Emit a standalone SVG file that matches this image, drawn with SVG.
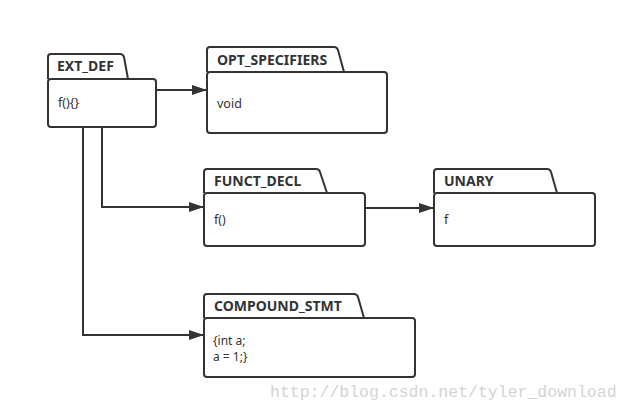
<svg xmlns="http://www.w3.org/2000/svg" width="627" height="410" viewBox="0 0 627 410">
<defs>
<style>
.box{fill:#fff;stroke:#333;stroke-width:2}
.tab{fill:#fff;stroke:#333;stroke-width:2;stroke-linejoin:round}
.title{font-family:"Noto Sans","Open Sans",sans-serif;font-weight:bold;font-size:14px;fill:#333}
.body{font-family:"Noto Sans","Open Sans",sans-serif;font-size:12.5px;fill:#333}
.code{font-family:"Noto Sans","Open Sans",sans-serif;font-size:12px;fill:#333}
.conn{fill:none;stroke:#333;stroke-width:2}
.wm{font-family:"Liberation Mono",monospace;font-size:16.5px;fill:#d4d4d4}
</style>
<marker id="arr" viewBox="0 0 15 10" refX="15" refY="5" markerWidth="15" markerHeight="10" markerUnits="userSpaceOnUse" orient="auto">
<path d="M0,0 L15,5 L0,10 Z" fill="#333"/>
</marker>
</defs>
<g id="connectors">
<path class="conn" d="M156,90 L207,90" marker-end="url(#arr)"/>
<path class="conn" d="M102,127 L102,207 L204,207" marker-end="url(#arr)"/>
<path class="conn" d="M83,127 L83,335 L204,335" marker-end="url(#arr)"/>
<path class="conn" d="M365,208 L434,208" marker-end="url(#arr)"/>
</g>
<g id="ext_def">
<path class="tab" d="M48,79 L48,57 Q48,54 51,54 L120,54 Q123,54 124,57 L128,79"/>
<rect class="box" x="48" y="79" width="108" height="48" rx="3"/>
<text class="title" x="57" y="71">EXT_DEF</text>
<text class="body" x="58" y="107">f(){}</text>
</g>
<g id="opt_specifiers">
<path class="tab" d="M207,72 L207,50 Q207,47 210,47 L334,47 Q337,47 338,50 L344,72"/>
<rect class="box" x="207" y="72" width="180" height="61" rx="3"/>
<text class="title" x="217" y="65">OPT_SPECIFIERS</text>
<text class="body" x="217" y="108">void</text>
</g>
<g id="funct_decl">
<path class="tab" d="M204,193 L204,172 Q204,169 207,169 L316,169 Q319,169 320,172 L327,193"/>
<rect class="box" x="204" y="193" width="161" height="53" rx="3"/>
<text class="title" x="214" y="186">FUNCT_DECL</text>
<text class="body" x="214" y="224">f()</text>
</g>
<g id="unary">
<path class="tab" d="M434,193 L434,172 Q434,169 437,169 L547,169 Q550,169 551,172 L557,193"/>
<rect class="box" x="434" y="193" width="161" height="53" rx="3"/>
<text class="title" x="444" y="186">UNARY</text>
<text class="body" x="444" y="224">f</text>
</g>
<g id="compound_stmt">
<path class="tab" d="M204,318 L204,297 Q204,294 207,294 L354,294 Q357,294 358,297 L364,318"/>
<rect class="box" x="204" y="318" width="211" height="59" rx="3"/>
<text class="title" x="214" y="311">COMPOUND_STMT</text>
<text class="code" x="213" y="345">{int a;</text>
<text class="code" x="213" y="361">a = 1;}</text>
</g>
<text class="wm" x="270" y="397">http://blog.csdn.net/tyler_download</text>
</svg>
